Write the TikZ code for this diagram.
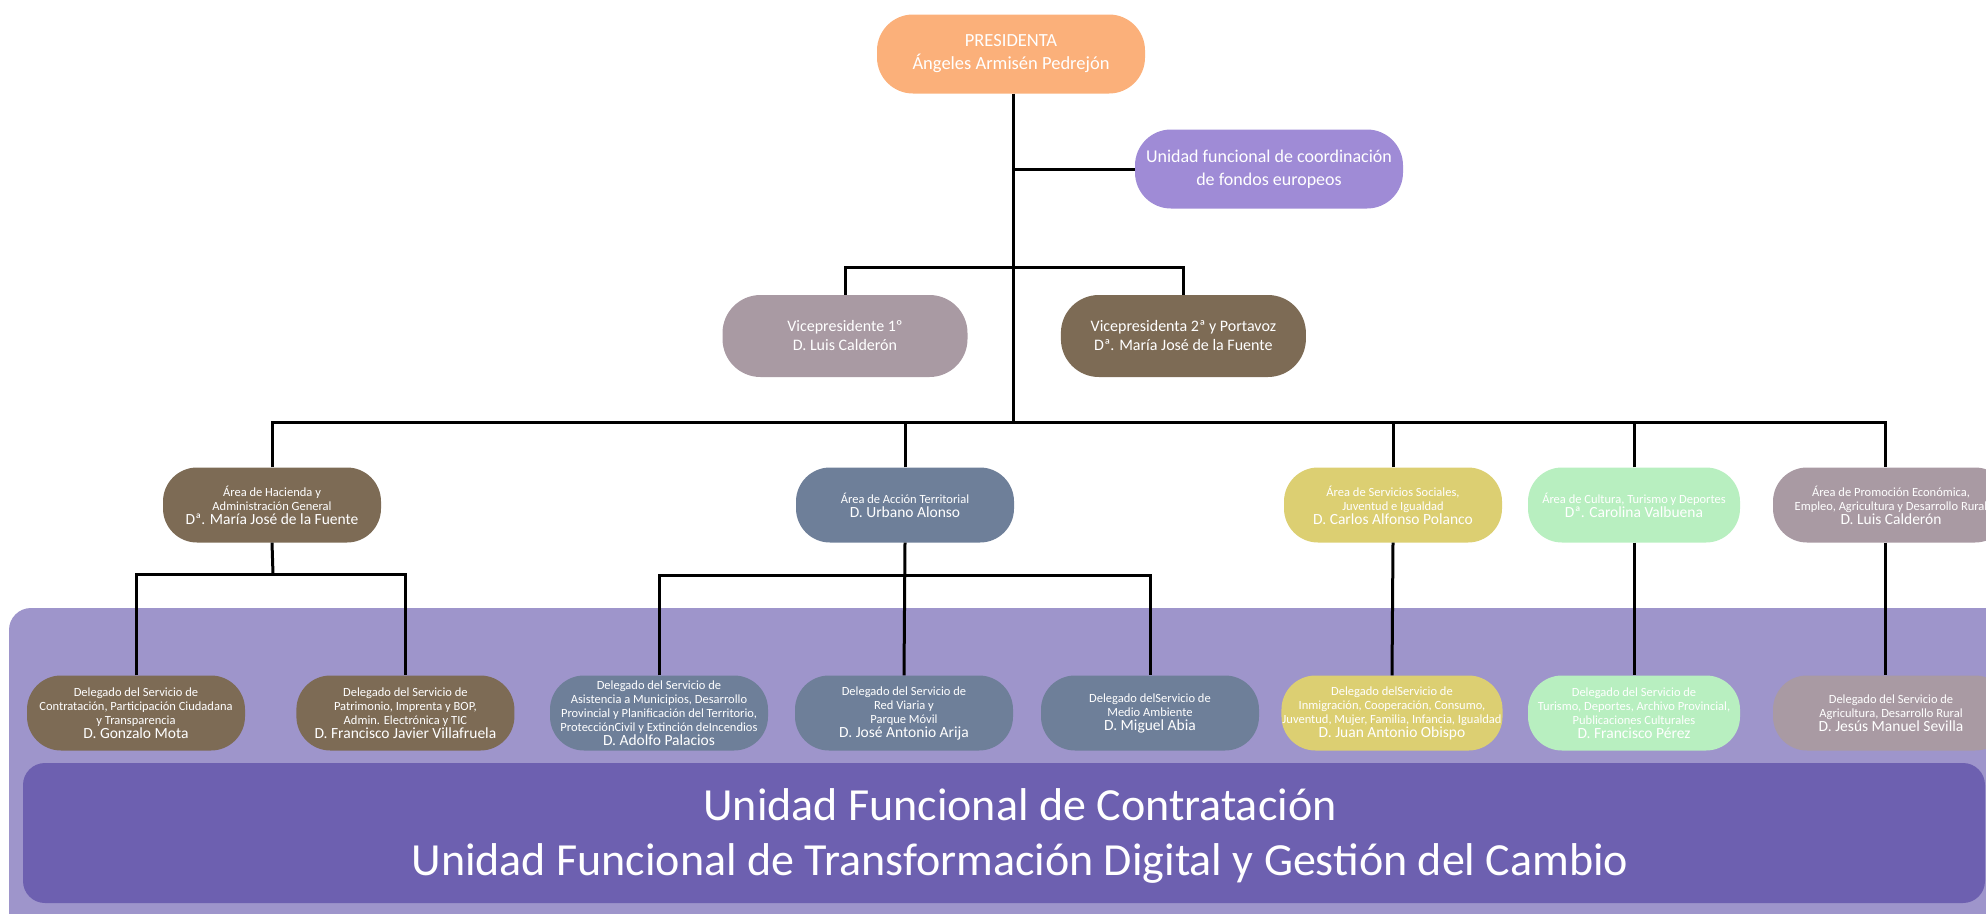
\documentclass[tikz,border=0pt]{standalone}
\usepackage{fontspec}
\setmainfont{Carlito}
\usetikzlibrary{positioning}
\definecolor{presorange}{HTML}{FBB07A}
\definecolor{fondoslila}{HTML}{9F8BD6}
\definecolor{malva}{HTML}{A99AA3}
\definecolor{pardo}{HTML}{7D6B55}
\definecolor{pizarra}{HTML}{6E7F99}
\definecolor{caqui}{HTML}{DCCF72}
\definecolor{menta}{HTML}{B8EFC0}
\definecolor{bandaclara}{HTML}{9E95CB}
\definecolor{bandaoscura}{HTML}{6D60B0}
\tikzset{orgbox/.style={rectangle,draw=none,text=white,align=center,
inner sep=1pt,rounded corners=34pt,minimum height=75pt,minimum width=218pt,
font=\fontsize{12.5}{14}\selectfont}}
\tikzset{topbox/.style={orgbox,rounded corners=36pt,minimum height=79pt,minimum width=268pt,
font=\fontsize{18.5}{23}\selectfont}}
\tikzset{vicebox/.style={orgbox,rounded corners=38pt,minimum height=82pt,minimum width=245pt,
font=\fontsize{16}{19}\selectfont}}
\tikzset{orgline/.style={draw=black,line width=3pt}}
\newcommand{\nameline}{\fontsize{15.5}{16.5}\selectfont}

\begin{document}
\begin{tikzpicture}[x=1pt,y=-1pt]
        \useasboundingbox (0,0) rectangle (1986,913);

        \fill[bandaclara,rounded corners=22pt] (9,608) rectangle (2030,940);
        \fill[bandaoscura,rounded corners=22pt] (23,763) rectangle (1985,903);
        \node[text=white,align=center,font=\fontsize{46}{55}\selectfont] (unidades) at (1020,836)
            {Unidad Funcional de Contratación\\Unidad Funcional de Transformación Digital y Gestión del Cambio};

        \node[topbox,fill=presorange] (pres) at (1011,54) {PRESIDENTA\\Ángeles Armisén Pedrejón};
        \node[topbox,fill=fondoslila,font=\fontsize{18}{23}\selectfont] (fondos) at (1269,169) {Unidad funcional de coordinación\\de fondos europeos};

        \node[vicebox,fill=malva] (vice1) at (845,336) {Vicepresidente 1º\\D. Luis Calderón};
        \node[vicebox,fill=pardo] (vice2) [right=93pt of vice1] {Vicepresidenta 2ª y Portavoz\\Dª. María José de la Fuente};

        \node[orgbox,fill=pardo] (hacienda) at (272,505) {Área de Hacienda y\\Administración General\\\nameline Dª. María José de la Fuente};
        \node[orgbox,fill=pizarra] (accion) at (905,505) {Área de Acción Territorial\\\nameline D. Urbano Alonso};
        \node[orgbox,fill=caqui] (sociales) at (1393,505) {Área de Servicios Sociales,\\Juventud e Igualdad\\\nameline D. Carlos Alfonso Polanco};
        \node[orgbox,fill=menta,minimum width=212pt] (cultura) at (1634,505) {Área de Cultura, Turismo y Deportes\\\nameline Dª. Carolina Valbuena};
        \node[orgbox,fill=malva,minimum width=236pt] (promocion) at (1891,505) {Área de Promoción Económica,\\Empleo, Agricultura y Desarrollo Rural\\\nameline D. Luis Calderón};

        \node[orgbox,fill=pardo] (contratacion) at (136,713) {Delegado del Servicio de\\Contratación, Participación Ciudadana\\y Transparencia\\\nameline D. Gonzalo Mota};
        \node[orgbox,fill=pardo] (patrimonio) [right=51pt of contratacion] {Delegado del Servicio de\\Patrimonio, Imprenta y BOP,\\Admin. Electrónica y TIC\\\nameline D. Francisco Javier Villafruela};
        \node[orgbox,fill=pizarra] (asistencia) at (659,713) {Delegado del Servicio de\\Asistencia a Municipios, Desarrollo\\Provincial y Planificación del Territorio,\\ProtecciónCivil y Extinción deIncendios\\\nameline D. Adolfo Palacios};
        \node[orgbox,fill=pizarra] (redviaria) at (904,713) {Delegado del Servicio de\\Red Viaria y\\Parque Móvil\\\nameline D. José Antonio Arija};
        \node[orgbox,fill=pizarra] (ambiente) at (1150,713) {Delegado delServicio de\\Medio Ambiente\\\nameline D. Miguel Abia};
        \node[orgbox,fill=caqui] (inmigracion) at (1392,713) {Delegado delServicio de\\Inmigración, Cooperación, Consumo,\\Juventud, Mujer, Familia, Infancia, Igualdad\\\nameline D. Juan Antonio Obispo};
        \node[orgbox,fill=menta,minimum width=212pt] (turismo) at (1634,713) {Delegado del Servicio de\\Turismo, Deportes, Archivo Provincial,\\Publicaciones Culturales\\\nameline D. Francisco Pérez};
        \node[orgbox,fill=malva,minimum width=236pt] (agricultura) at (1891,713) {Delegado del Servicio de\\Agricultura, Desarrollo Rural\\\nameline D. Jesús Manuel Sevilla};

        \coordinate (vbar) at (1013,267);
        \coordinate (abar) at (1013,422);
        \coordinate (hbar) at (273,574);
        \coordinate (tbar) at (907,575);

        \draw[orgline] (pres.south -| vbar) -- (abar);
        \draw[orgline] (vbar |- fondos.west) -- (fondos.west);
        \draw[orgline] (vice1.north) |- (vbar) -| (vice2.north);
        \draw[orgline] (hacienda.north) |- (abar) -| ([xshift=-6pt]promocion.north);
        \foreach \area in {accion,sociales,cultura}
            \draw[orgline] (\area.north) -- (\area.north |- abar);

        \draw[orgline] (hacienda.south) -- (hbar);
        \draw[orgline] (contratacion.north) |- (hbar) -| (patrimonio.north);
        \draw[orgline] (accion.south) -- (redviaria.north);
        \draw[orgline] (asistencia.north) |- (tbar) -| (ambiente.north);
        \draw[orgline] (sociales.south) -- (inmigracion.north);
        \draw[orgline] (cultura.south) -- (turismo.north);
        \draw[orgline] ([xshift=-6pt]promocion.south) -- ([xshift=-6pt]agricultura.north);

    \end{tikzpicture}
\end{document}
